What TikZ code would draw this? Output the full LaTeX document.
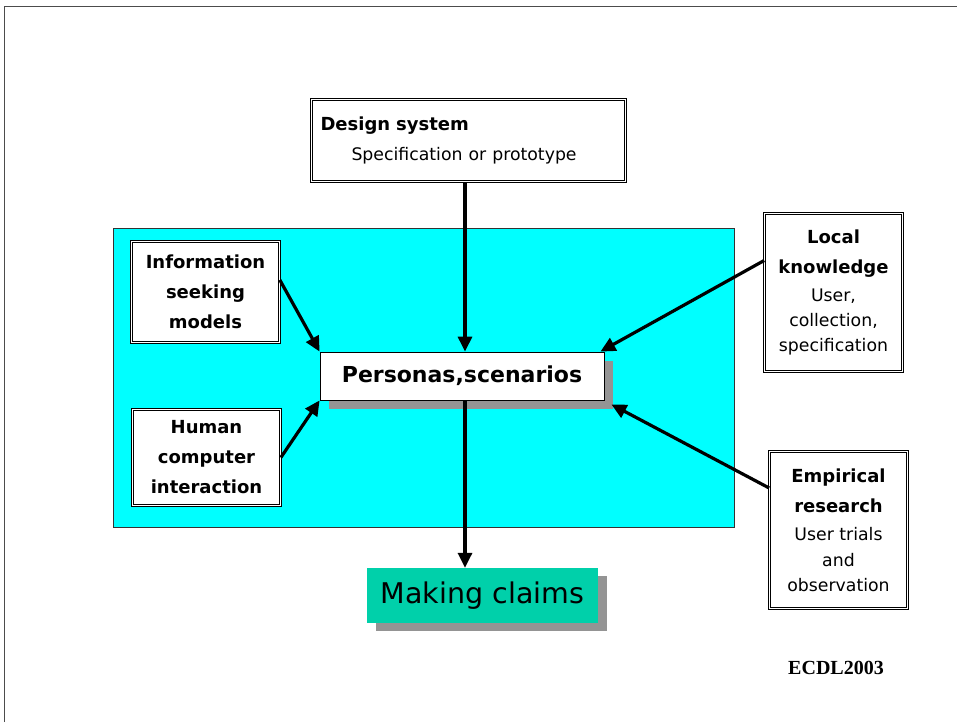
\documentclass[tikz,border=0pt]{standalone}
\usepackage{fontspec}
\setmainfont{DejaVu Sans}
\newfontfamily\tagfont{Liberation Serif}
\usetikzlibrary{arrows.meta,positioning,shadows}
\definecolor{PanelCyan}{HTML}{00FFFF}
\definecolor{ClaimTeal}{HTML}{00D0AA}
\definecolor{ShadowGray}{HTML}{949494}
\newcommand\subtxt{\fontsize{17.3}{25}\selectfont\mdseries}

\begin{document}
\begin{tikzpicture}[x=1pt,y=-1pt,
          srcbox/.style={draw, double, double distance=1.8pt, line width=0.7pt, fill=white, align=center, inner sep=2pt,
            font=\fontsize{18}{30}\selectfont\bfseries},
          hubbox/.style={draw, line width=0.8pt, fill=white, minimum width=284pt, minimum height=48pt, font=\fontsize{22}{25}\selectfont\bfseries,
            drop shadow={shadow xshift=9pt, shadow yshift=-9pt, fill=ShadowGray, opacity=1}},
          claimbox/.style={fill=ClaimTeal, minimum width=231pt, minimum height=55pt, font=\fontsize{28.5}{32}\selectfont,
            drop shadow={shadow xshift=9pt, shadow yshift=-8pt, fill=ShadowGray, opacity=1}},
          link/.style={line width=3.2pt, -{Triangle[length=15pt,width=14pt]}}
        ]
          \useasboundingbox (0,0) rectangle (957,722);
          \draw[line width=1pt, black!70] (4,722) -- (4,7) -- (957,7);
          \fill[PanelCyan, draw=black!80, line width=0.8pt] (113,228) rectangle (734,527);

          \node[srcbox, minimum width=314pt, minimum height=82pt, align=left, text width=296pt] (design) at (468.5,140.5)
            {Design system\\[0pt]
             \subtxt\hspace*{31pt}Specification or prototype};
          \node[srcbox, minimum width=148pt, minimum height=101pt] (info) at (205.5,292)
            {Information\\seeking\\models};
          \node[srcbox, minimum width=148pt, minimum height=96pt] (hci) at (206.5,457.5)
            {Human\\computer\\interaction};
          \node[srcbox, minimum width=138pt, minimum height=158pt] (local) at (833.5,292.5)
            {Local\\knowledge\\[-2pt]
             \subtxt User,\\[-5pt]\subtxt collection,\\[-5pt]\subtxt specification};
          \node[srcbox, minimum width=138pt, minimum height=157pt] (empirical) at (838.5,530)
            {Empirical\\research\\[-2pt]
             \subtxt User trials\\[-4pt]\subtxt and\\[-5pt]\subtxt observation};

          \node[hubbox] (hub) at (462,376) {Personas,scenarios};
          \node[claimbox] (claims) at (482.5,595.5) {Making claims};
          \node[font=\tagfont\fontsize{20}{24}\selectfont\bfseries] (tag) at (836,668) {ECDL2003};

          \draw[link] ([xshift=3pt]design.south -| hub.north) -- ([xshift=3pt]hub.north);
          \draw[link] ([yshift=12pt]info.east) -- (hub.north west);
          \draw[link] (hci.east) -- (hub.south west);
          \draw[link] ([yshift=32pt]local.west) -- ([xshift=-4pt]hub.north east);
          \draw[link] ([yshift=42pt]empirical.west) -- ([xshift=7pt,yshift=-4pt]hub.south east);
          \draw[link] ([xshift=3pt]hub.south) -- ([xshift=3pt]hub.south |- claims.north);
        \end{tikzpicture}
\end{document}
